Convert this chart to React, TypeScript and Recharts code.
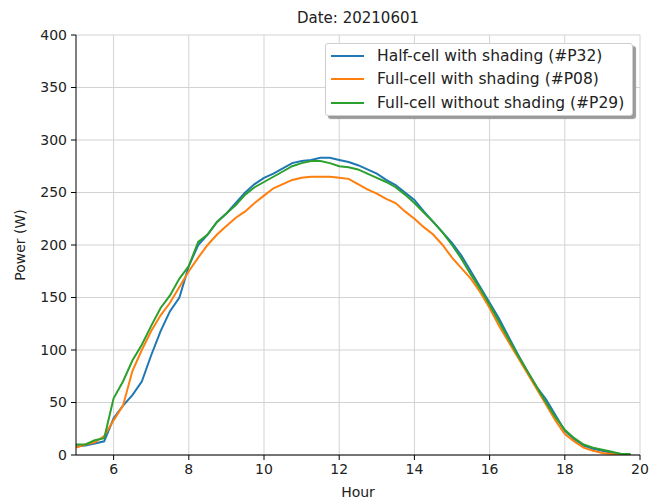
import React from 'react';
import { LineChart, Line, XAxis, YAxis, CartesianGrid } from 'recharts';

const hours = [5,5.25,5.5,5.75,6,6.25,6.5,6.75,7,7.25,7.5,7.75,8,8.25,8.5,8.75,9,9.25,9.5,9.75,10,10.25,10.5,10.75,11,11.25,11.5,11.75,12,12.25,12.5,12.75,13,13.25,13.5,13.75,14,14.25,14.5,14.75,15,15.25,15.5,15.75,16,16.25,16.5,16.75,17,17.25,17.5,17.75,18,18.25,18.5,18.75,19,19.25,19.5,19.75];
const halfShaded = [8,9,11,13,35,47,57,70,95,118,137,150,180,200,210,222,230,240,250,258,264,268,273,278,280,281,283,283,281,279,276,272,268,262,257,250,243,232,222,212,202,190,175,160,145,130,113,96,80,65,53,38,23,15,9,6,4,2,1,0];
const fullShaded = [7,10,12,18,33,47,80,100,118,133,145,160,175,188,200,210,218,226,232,240,247,254,258,262,264,265,265,265,264,263,258,253,249,244,240,232,225,217,210,200,188,178,168,155,140,123,108,93,78,63,48,33,20,13,7,4,2,1,0,0];
const fullUnshaded = [10,10,14,16,54,70,90,105,123,140,152,168,180,203,210,222,230,238,248,255,260,265,270,275,278,280,280,278,275,274,272,268,264,260,255,248,240,231,222,212,200,187,172,158,143,127,111,95,80,65,50,36,24,16,10,7,5,3,1,1];
const xTicks = [6,8,10,12,14,16,18,20];
const yTicks = [0,50,100,150,200,250,300,350,400];
const seriesNames = ['Half-cell with shading (#P32)','Full-cell with shading (#P08)','Full-cell without shading (#P29)'];
const colors = ['#1f77b4','#ff7f0e','#2ca02c'];
const title = 'Date: 20210601';

const data = hours.map((h, i) => ({ h, a: halfShaded[i], b: fullShaded[i], c: fullUnshaded[i] }));

const font = 'DejaVu Sans, sans-serif';

const LegendBox = () => (
  <div style={{
    position: 'absolute', left: 325, top: 43, width: 308, height: 73, boxSizing: 'border-box',
    background: '#fff', border: '1px solid #cfcfcf', borderRadius: 3,
    boxShadow: '3px 3px 1px #9a9a9a', padding: '0 0 0 5px', fontFamily: font, fontSize: 15.5, color: '#222',
  }}>
    {seriesNames.map((n, i) => (
      <div key={n} style={{ display: 'flex', alignItems: 'center', height: 23.5 }}>
        <div style={{ width: 33, height: 2, background: colors[i], marginRight: 13 }} />
        <span style={{ whiteSpace: 'nowrap' }}>{n}</span>
      </div>
    ))}
  </div>
);

export default function App() {
  return (
    <div style={{ position: 'absolute', left: 0, top: 0, width: 654, height: 503, background: '#fff' }}>
      <LineChart width={654} height={503} data={data} margin={{ top: 35, right: 14, left: 26, bottom: 18 }}>
        <CartesianGrid stroke="#d3d3d3" strokeWidth={1} horizontalValues={yTicks} verticalValues={xTicks} />
        <XAxis dataKey="h" type="number" domain={[5, 20]} ticks={xTicks} allowDataOverflow
          tick={{ fontSize: 14, fill: '#222', fontFamily: font }} tickSize={5} tickMargin={4}
          stroke="#000" axisLine={{ stroke: '#000' }} tickLine={{ stroke: '#000' }} height={30}
          label={{ value: 'Hour', position: 'insideBottom', offset: -12, fontSize: 14, fill: '#222', fontFamily: font }} />
        <XAxis xAxisId="top" orientation="top" dataKey="h" type="number" domain={[5, 20]} tick={false} tickLine={false} height={0} axisLine={{ stroke: '#000' }} />
        <YAxis type="number" domain={[0, 400]} ticks={yTicks} allowDataOverflow width={50}
          tick={{ fontSize: 14, fill: '#222', fontFamily: font }} tickSize={5} tickMargin={4}
          axisLine={{ stroke: '#000' }} tickLine={{ stroke: '#000' }}
          label={{ value: 'Power (W)', angle: -90, position: 'insideLeft', offset: -6, fontSize: 14, fill: '#222', fontFamily: font, style: { textAnchor: 'middle' } }} />
        <YAxis yAxisId="right" orientation="right" type="number" domain={[0, 400]} tick={false} tickLine={false} width={0} axisLine={{ stroke: '#000' }} />
        <Line dataKey="a" stroke={colors[0]} strokeWidth={2} dot={false} isAnimationActive={false} type="linear" />
        <Line dataKey="b" stroke={colors[1]} strokeWidth={2} dot={false} isAnimationActive={false} type="linear" />
        <Line dataKey="c" stroke={colors[2]} strokeWidth={2} dot={false} isAnimationActive={false} type="linear" />
        <text x={358} y={23} textAnchor="middle" fontSize={15} fill="#222" fontFamily={font}>{title}</text>
      </LineChart>
      <LegendBox />
    </div>
  );
}
